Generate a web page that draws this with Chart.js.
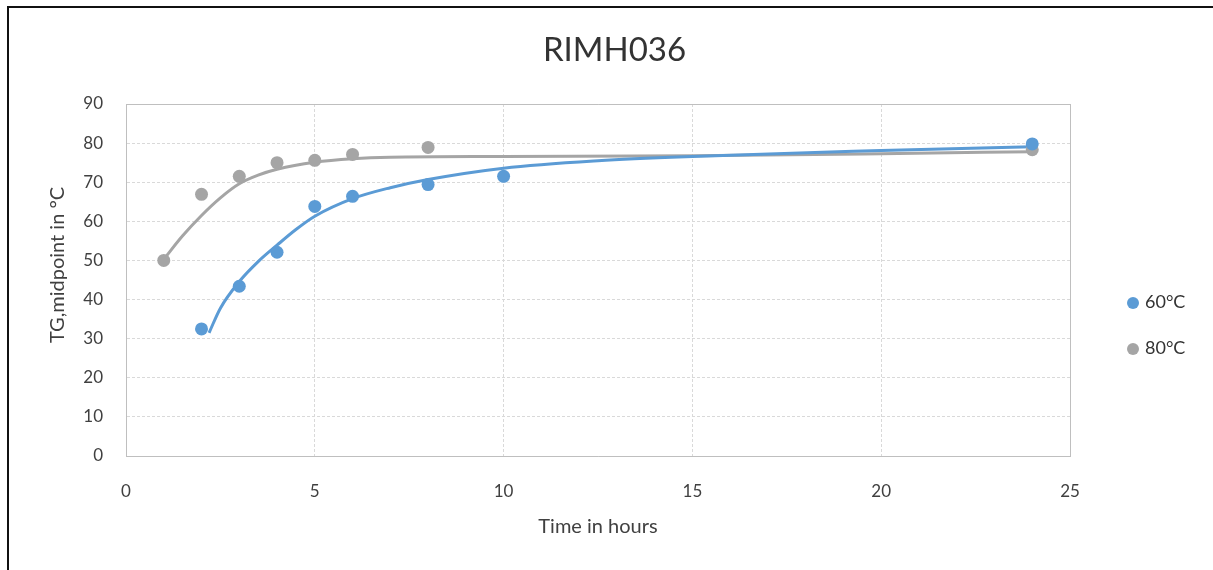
<!DOCTYPE html>
<html>
<head>
<meta charset="utf-8">
<script src="https://cdn.jsdelivr.net/npm/chart.js@4"></script>
<style>
  body { margin: 0; background: #fff; }
  #wrap { position: relative; width: 1213px; height: 570px; overflow: hidden; }
  #frame { position: absolute; left: 7px; top: 6px; width: 1300px; height: 700px;
           border-left: 2px solid #111; border-top: 2px solid #111; pointer-events: none; }
  canvas { position: absolute; left: 0; top: 0; }
</style>
</head>
<body>
<div id="wrap">
  <canvas id="chart" width="1213" height="570"></canvas>
  <div id="frame"></div>
</div>
<script>
const horas60 = [2, 3, 4, 5, 6, 8, 10, 24];
const tg60 = [32.5, 43.4, 52.1, 63.8, 66.4, 69.4, 71.5, 79.8];
const horas80 = [1, 2, 3, 4, 5, 6, 8, 24];
const tg80 = [50, 66.9, 71.5, 75, 75.6, 77.1, 78.9, 78.3];

// curvas de tendência
const ajusteX60 = [2.2, 2.5, 3, 3.5, 4, 4.5, 5, 6, 7, 8, 10, 12.5, 15, 20, 24];
const ajusteY60 = [31.5, 37.8, 44.6, 49.7, 53.9, 57.9, 61.3, 65.8, 68.6, 70.7, 73.6, 75.5, 76.6, 78.1, 79.1];
const ajusteX80 = [1, 1.5, 2, 2.5, 3, 3.5, 4, 5, 6, 7, 10, 15, 20, 24];
const ajusteY80 = [50.3, 56.3, 61.5, 66, 69.6, 71.8, 73.3, 75.1, 76, 76.4, 76.6, 76.8, 77.3, 77.8];

const xTicks = [0, 5, 10, 15, 20, 25];
const yTicks = [0, 10, 20, 30, 40, 50, 60, 70, 80, 90];

const AZUL = '#5b9bd5';
const CINZA = '#a5a5a5';
const FONTE = 'Lato, "Open Sans", sans-serif';

function pares(xs, ys) {
  return xs.map((x, i) => ({ x: x, y: ys[i] }));
}

/* legenda e título do eixo Y desenhados à mão para acertar a posição */
const extras = {
  id: 'extras',
  afterDraw(chart) {
    const ctx = chart.ctx;
    ctx.save();
    ctx.fillStyle = '#404040';
    ctx.font = '20px ' + FONTE;
    ctx.textAlign = 'center';
    ctx.textBaseline = 'middle';
    ctx.translate(58, 265);
    ctx.rotate(-Math.PI / 2);
    ctx.fillText('TG,midpoint in °C', 0, 0);
    ctx.restore();

    ctx.save();
    ctx.font = '18px ' + FONTE;
    ctx.textBaseline = 'middle';
    chart.data.datasets.slice(0, 2).forEach((ds, i) => {
      const y = 303 + i * 46;
      ctx.fillStyle = ds.backgroundColor;
      ctx.beginPath();
      ctx.arc(1133, y, 6, 0, Math.PI * 2);
      ctx.fill();
      ctx.fillStyle = '#333';
      ctx.fillText(ds.label, 1145, y - 1);
    });
    ctx.restore();
  }
};

new Chart(document.getElementById('chart'), {
  type: 'scatter',
  data: {
    datasets: [
      { label: '60°C', data: pares(horas60, tg60), backgroundColor: AZUL, borderColor: AZUL,
        pointRadius: 6.5, pointBorderWidth: 0, xAxisID: 'x', yAxisID: 'y' },
      { label: '80°C', data: pares(horas80, tg80), backgroundColor: CINZA, borderColor: CINZA,
        pointRadius: 6.5, pointBorderWidth: 0, xAxisID: 'x', yAxisID: 'y' },
      { label: 'ajuste 60', data: pares(ajusteX60, ajusteY60), showLine: true, borderColor: AZUL,
        backgroundColor: AZUL, borderWidth: 3, pointRadius: 0, cubicInterpolationMode: 'monotone',
        xAxisID: 'x', yAxisID: 'y' },
      { label: 'ajuste 80', data: pares(ajusteX80, ajusteY80), showLine: true, borderColor: CINZA,
        backgroundColor: CINZA, borderWidth: 3, pointRadius: 0, cubicInterpolationMode: 'monotone',
        xAxisID: 'x', yAxisID: 'y' }
    ]
  },
  options: {
    responsive: false,
    animation: false,
    layout: { padding: { left: 16, right: 0, top: 0, bottom: 0 } },
    plugins: {
      legend: { display: false },
      tooltip: { enabled: false },
      title: {
        display: true,
        text: 'RIMH036',
        color: '#333',
        font: { family: FONTE, size: 33, weight: 'normal', lineHeight: 1.2 },
        padding: { top: 31, bottom: 33.4 }
      }
    },
    scales: {
      x: {
        type: 'linear', position: 'bottom', min: 0, max: 25,
        afterBuildTicks: s => { s.ticks = xTicks.map(v => ({ value: v })); },
        afterFit: s => { s.height = 114; },
        grid: { color: '#d9d9d9', drawTicks: false },
        border: { color: '#bfbfbf', width: 1, dash: [3, 2] },
        ticks: { color: '#404040', padding: 25, font: { family: FONTE, size: 17 } },
        title: { display: true, text: 'Time in hours', color: '#404040',
                 font: { family: FONTE, size: 20, lineHeight: 1.2 }, padding: { bottom: 31 } }
      },
      x2: {
        type: 'linear', position: 'top', min: 0, max: 25,
        afterFit: s => { s.height = 0; },
        grid: { display: false },
        border: { display: true, color: '#bfbfbf' },
        ticks: { display: false }
      },
      y: {
        type: 'linear', position: 'left', min: 0, max: 90,
        afterBuildTicks: s => { s.ticks = yTicks.map(v => ({ value: v })); },
        afterFit: s => { s.width = 110; },
        grid: { color: '#d9d9d9', drawTicks: false },
        border: { color: '#bfbfbf', width: 1, dash: [3, 2] },
        ticks: { color: '#404040', padding: 23, font: { family: FONTE, size: 17 } }
      },
      y2: {
        type: 'linear', position: 'right', min: 0, max: 90,
        afterFit: s => { s.width = 143; },
        grid: { display: false },
        border: { display: true, color: '#bfbfbf' },
        ticks: { display: false }
      }
    }
  },
  plugins: [extras]
});
</script>
</body>
</html>
